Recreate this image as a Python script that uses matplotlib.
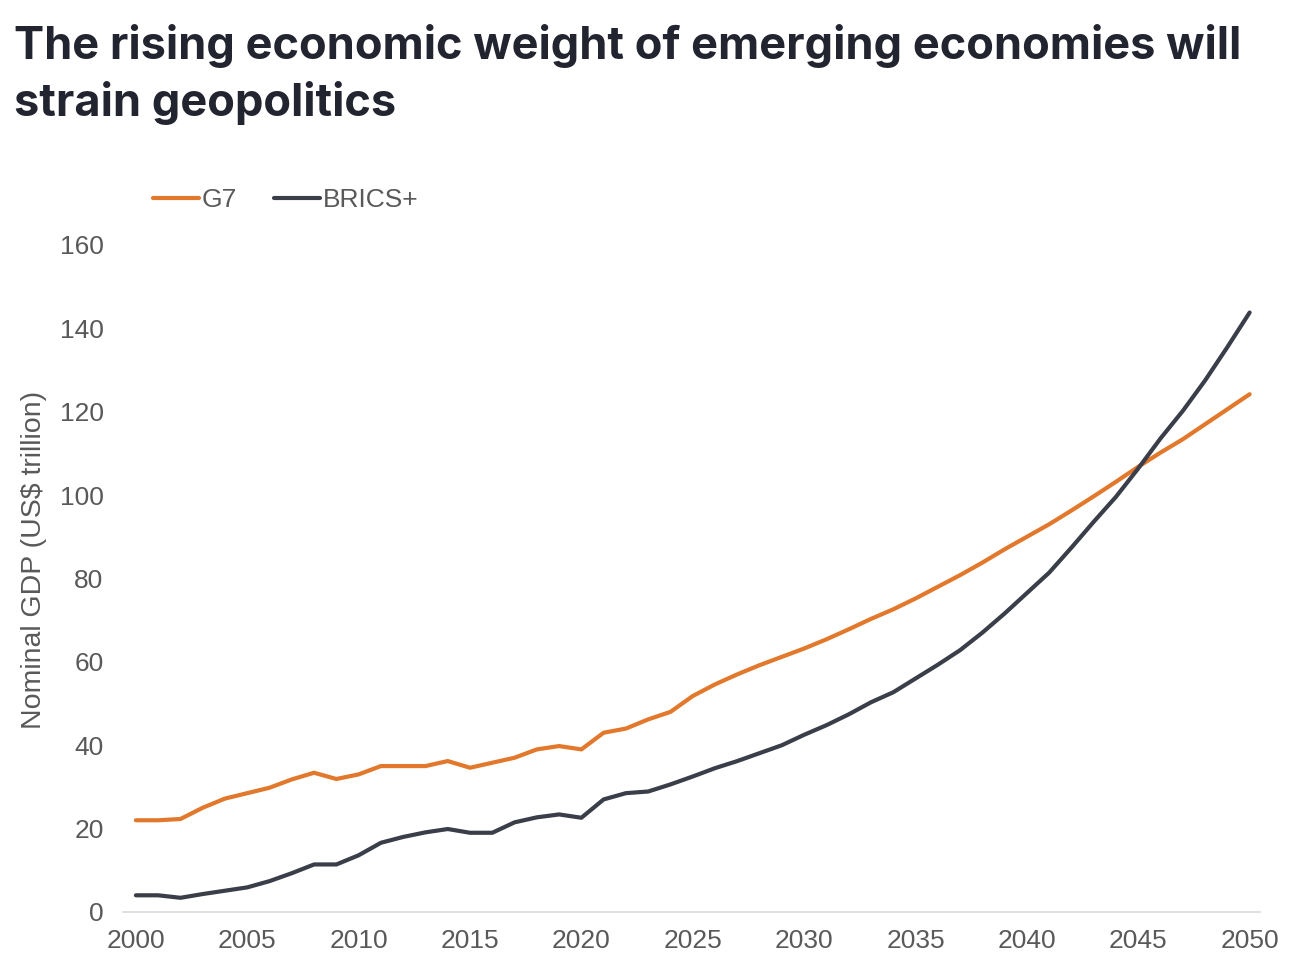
import matplotlib.pyplot as plt
import numpy as np

# data (nominal GDP, US$ trillion)
years = list(range(2000, 2051))
g7 = [22, 22, 22.3, 25, 27.2, 28.5, 29.8, 31.8, 33.4, 31.9, 33, 35, 35, 35, 36.2,
      34.6, 35.8, 37, 39, 39.8, 39, 43, 44, 46.2, 48, 51.8, 54.6, 57, 59.2, 61.2,
      63.2, 65.4, 67.8, 70.3, 72.6, 75.2, 78, 80.8, 83.8, 87, 90, 93, 96.3, 99.7,
      103.2, 106.8, 110.2, 113.4, 117, 120.6, 124.2]
brics = [4, 4, 3.4, 4.3, 5.1, 5.9, 7.4, 9.3, 11.4, 11.4, 13.6, 16.6, 18, 19.1, 19.9,
         19, 19, 21.5, 22.7, 23.4, 22.6, 27, 28.5, 28.9, 30.6, 32.5, 34.5, 36.2, 38.1, 40,
         42.5, 44.8, 47.4, 50.3, 52.7, 56, 59.3, 62.8, 67, 71.6, 76.5, 81.4, 87.4, 93.6,
         99.6, 106.4, 113.6, 120.2, 127.5, 135.5, 143.8]
series_names = ['G7', 'BRICS+']
yticks = [0, 20, 40, 60, 80, 100, 120, 140, 160]
xticks = list(range(2000, 2051, 5))

plt.rcParams['font.family'] = ['Liberation Sans', 'DejaVu Sans']

fig = plt.figure(figsize=(13.04, 9.76), dpi=100)
ax = fig.add_axes([0.0943, 0.0656, 0.8717, 0.6834])

ax.plot(years, g7, color='#E2782C', lw=3, label=series_names[0], solid_capstyle='round')
ax.plot(years, brics, color='#3A3E48', lw=3, label=series_names[1], solid_capstyle='round')

ax.set_xlim(1999.42, 2050.45)
ax.set_ylim(0, 160)
ax.set_xticks(xticks)
ax.set_yticks(yticks)
ax.tick_params(length=0, labelsize=19, colors='#595959')
ax.tick_params(axis='x', pad=12)
ax.tick_params(axis='y', pad=14)
for s in ['top', 'right', 'left']:
    ax.spines[s].set_visible(False)
ax.spines['bottom'].set_color('#d9d9d9')
ax.spines['bottom'].set_linewidth(1.2)

ax.set_ylabel('Nominal GDP (US$ trillion)', fontsize=20.5, color='#595959', labelpad=9, y=0.528)

leg = fig.legend(loc='center left', bbox_to_anchor=(0.099, 0.795), ncol=2, frameon=False,
                 fontsize=19, handlelength=1.75, handletextpad=0.1, columnspacing=1.4)
for t in leg.get_texts():
    t.set_color('#595959')

fig.text(0.011, 0.975, 'The rising economic weight of emerging economies will\nstrain geopolitics',
         fontsize=32.5, fontweight='bold', family=['Inter', 'DejaVu Sans'], color='#22242f',
         va='top', ha='left', linespacing=1.36)

fig.savefig('out.png', dpi=100)
